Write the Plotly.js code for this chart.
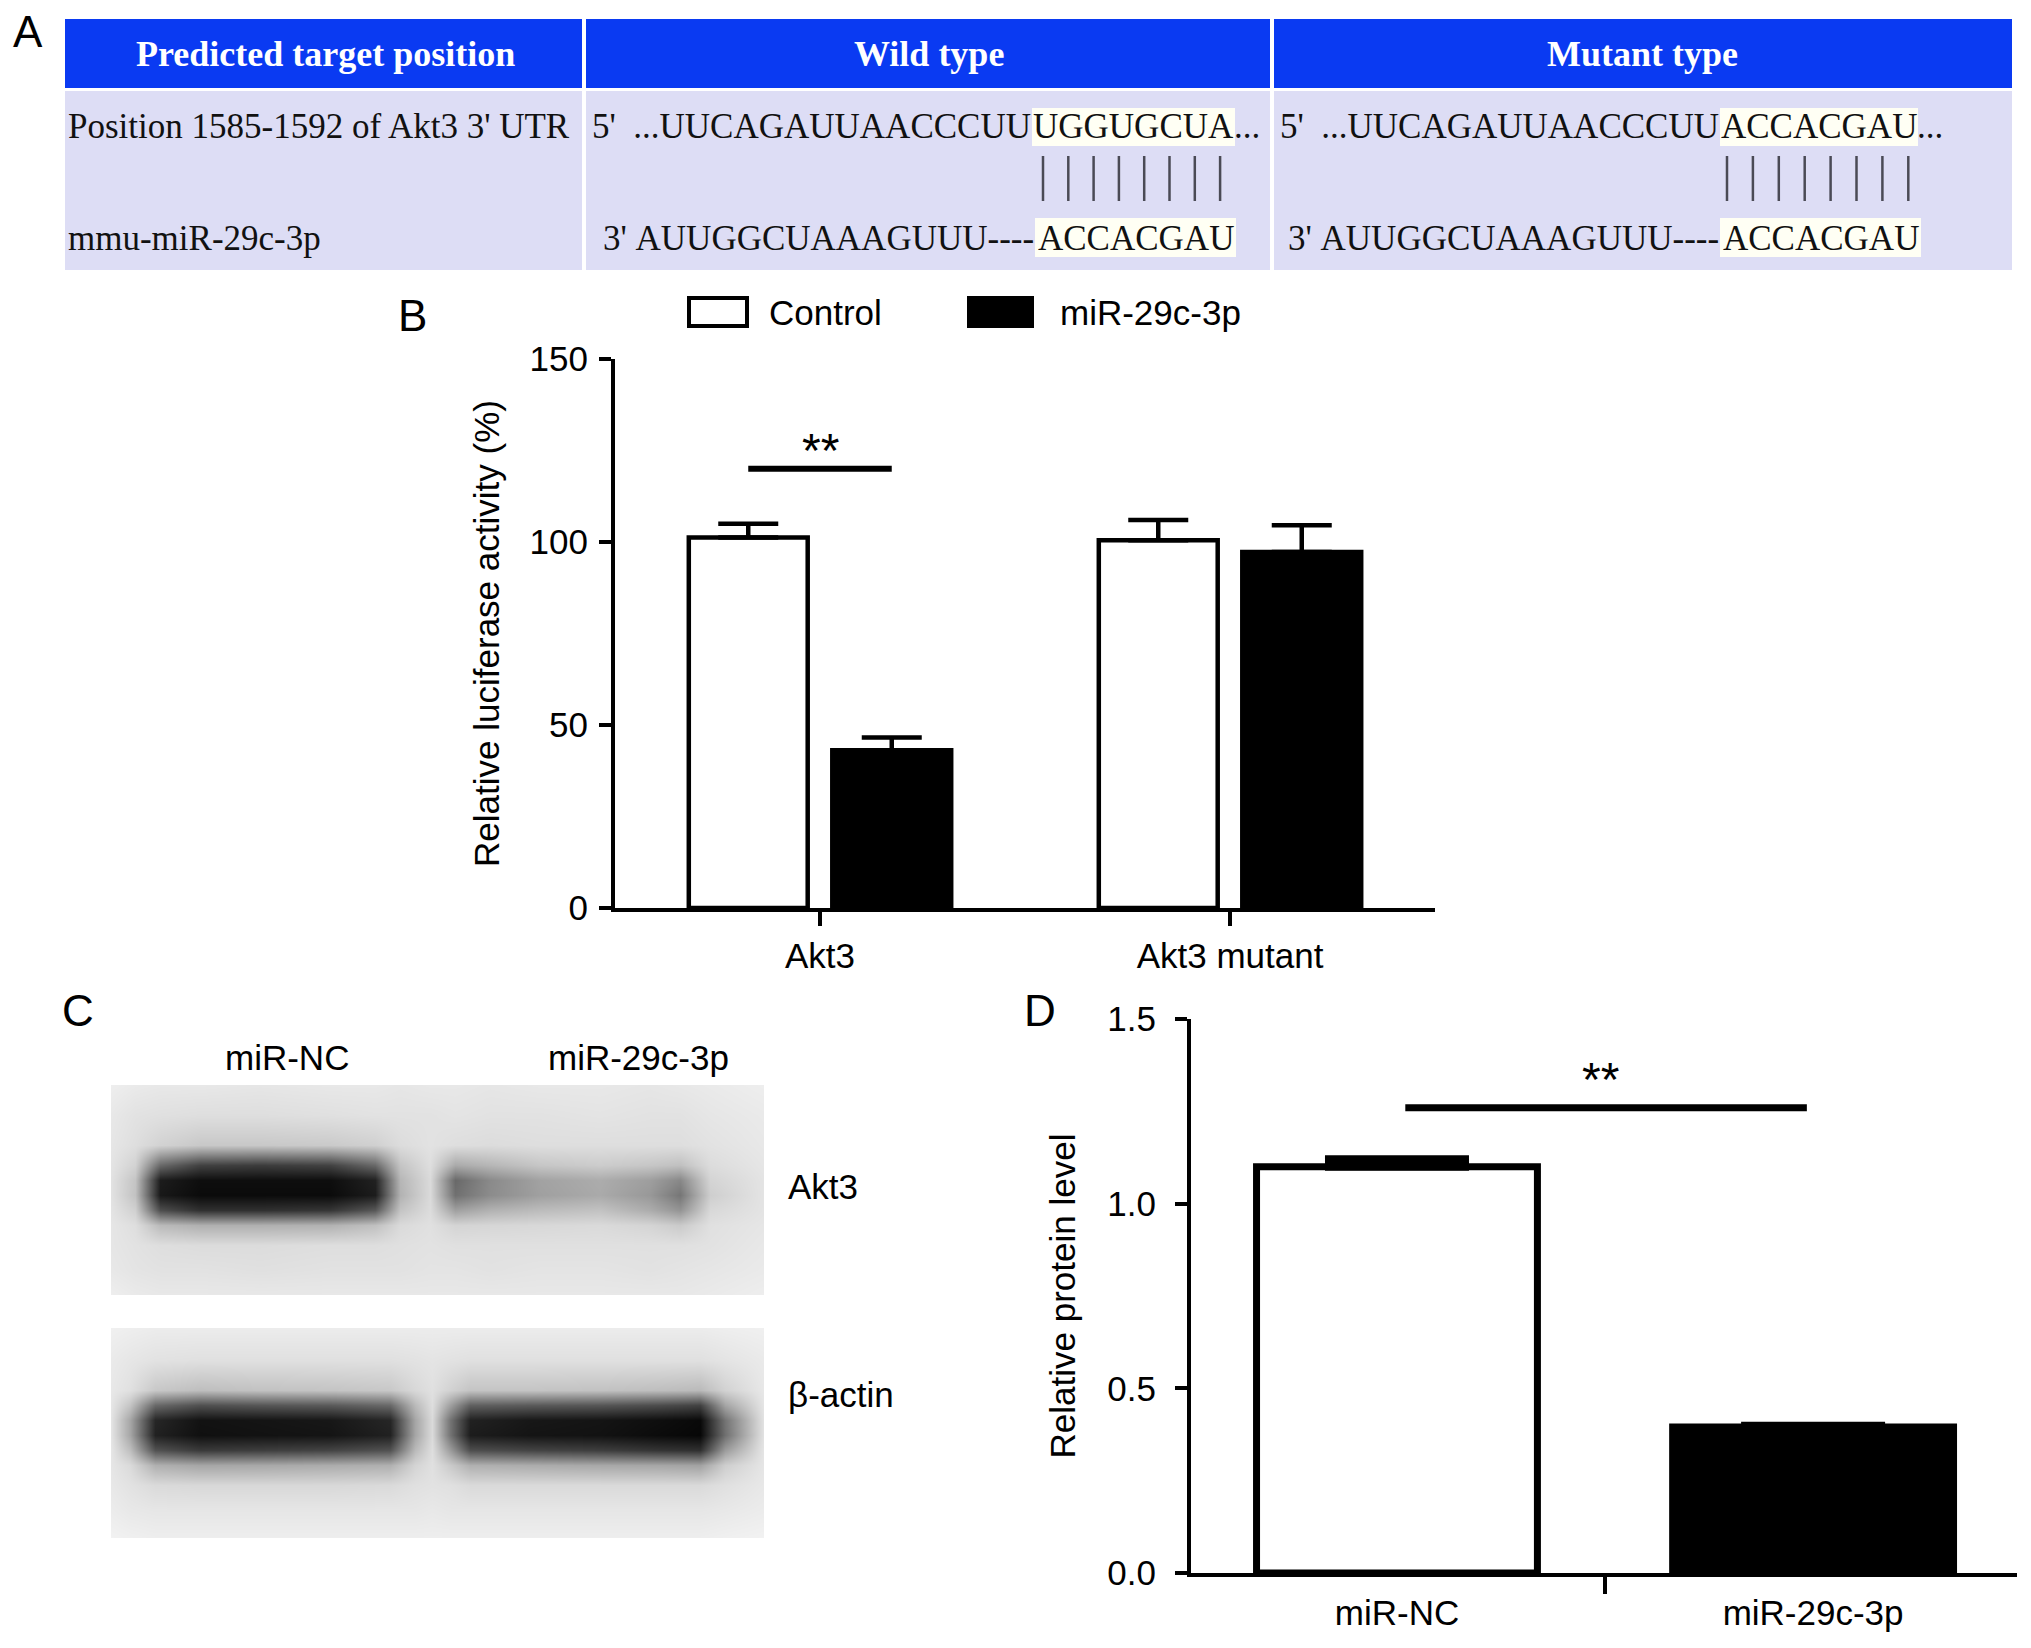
<!DOCTYPE html>
<html>
<head>
<meta charset="utf-8">
<script src="https://cdn.plot.ly/plotly-3.0.1.min.js"></script>
<style>
  html, body { margin: 0; padding: 0; background: #ffffff; }
  #chart { width: 2031px; height: 1648px; }
</style>
</head>
<body>
<div id="chart"></div>
<script>
// ---------------- DATA ----------------
// Panel A: target-site table
const tableHeader = ['Predicted target position', 'Wild type', 'Mutant type'];
const rowLabels = ["Position 1585-1592 of Akt3 3' UTR", 'mmu-miR-29c-3p'];
const wtTarget = ["5'\u00a0 ...UUCAGAUUAACCCUU", 'UGGUGCUA', '...'];
const mutTarget = ["5'\u00a0 ...UUCAGAUUAACCCUU", 'ACCACGAU', '...'];
const mirSeq = ["3'\u00a0AUUGGCUAAAGUUU----", 'ACCACGAU'];

// Panel B: luciferase reporter assay
const groupsB = ['Akt3', 'Akt3 mutant'];
const seriesB = ['Control', 'miR-29c-3p'];
const controlB = [101.2, 100.5];
const controlErrB = [3.8, 5.5];
const mirB = [43.1, 97.3];
const mirErrB = [3.5, 7.3];
const yTicksB = [0, 50, 100, 150];
const sigLevelB = 120;
const sigTextB = '**';

// Panel C: western blot (grey level 0 = black, 255 = white)
const laneLabels = ['miR-NC', 'miR-29c-3p'];
const blotLabels = ['Akt3', '\u03b2-actin'];
const akt3BlotX = [0, 3.7, 7.5, 13.6, 22.8, 33.5, 40.4, 44.3, 48.9, 52.7, 58.0, 65.7, 74.9, 82.5, 87.1, 91.7, 100];
const akt3BlotY = [0, 14.3, 28.6, 38.1, 45.2, 52.4, 59.5, 66.7, 76.2, 88.1, 100];
const akt3BlotZ = [
  [238,234,232,232,230,232,232,230,232,232,230,232,232,230,232,234,238],
  [232,226,224,222,222,224,226,226,226,228,226,226,228,226,226,230,234],
  [230,222,210,200,200,202,208,220,226,222,220,222,222,222,222,226,232],
  [228,210,105, 65, 60, 66,105,196,222,170,182,198,204,198,192,220,230],
  [226,196, 28, 14, 14, 14, 33,182,218,105,138,162,172,158,136,212,228],
  [226,194, 24, 11, 11, 11, 28,178,218,112,140,160,170,152,118,206,228],
  [228,208, 78, 48, 48, 54, 88,196,220,160,178,188,194,172,148,216,228],
  [230,222,186,176,176,178,192,218,224,212,214,216,218,212,202,224,230],
  [230,226,222,220,220,222,222,224,226,224,224,224,224,224,224,226,232],
  [232,228,226,226,224,226,226,226,228,228,226,228,228,226,228,230,234],
  [238,234,232,232,232,232,232,232,232,232,232,232,232,232,232,234,238]
];
const actinBlotX = [0, 2.9, 6.7, 13.6, 22.8, 33.5, 42.7, 46.6, 49.2, 51.9, 55.0, 64.2, 74.9, 84.1, 90.2, 94.0, 100];
const actinBlotY = [0, 15.2, 29.5, 36.7, 43.8, 51.0, 58.1, 65.2, 74.8, 86.7, 100];
const actinBlotZ = [
  [240,238,236,236,236,236,236,236,236,236,236,236,236,236,236,238,240],
  [234,230,226,224,224,224,224,226,228,226,224,224,224,224,224,228,234],
  [232,224,200,190,194,196,200,216,224,210,196,196,194,190,186,210,232],
  [230,196,105, 80, 86, 90,105,186,222,160, 96, 90, 86, 76, 66,165,230],
  [228,166, 38, 18, 20, 23, 38,166,218,116, 33, 23, 20, 14,  9,116,228],
  [228,166, 33, 16, 18, 20, 33,166,218,116, 28, 20, 18, 11,  7,112,228],
  [230,190, 82, 58, 62, 68, 82,186,222,156, 78, 68, 62, 52, 48,156,230],
  [230,218,176,166,168,172,176,212,224,202,176,172,168,166,162,206,230],
  [232,226,218,216,216,216,218,224,226,224,218,218,218,218,218,224,232],
  [236,232,230,230,230,230,230,230,232,230,230,230,230,230,230,232,236],
  [242,240,238,238,238,238,238,238,238,238,238,238,238,238,238,240,242]
];

// Panel D: relative protein level
const groupsD = ['miR-NC', 'miR-29c-3p'];
const levelD = [1.10, 0.395];
const errD = [0.02, 0.004];
const yTicksD = [0, 0.5, 1.0, 1.5];
const yTickTextD = ['0.0', '0.5', '1.0', '1.5'];
const sigLevelD = 1.26;
const sigTextD = '**';

const panelLetters = ['A', 'B', 'C', 'D'];

// ---------------- STYLE / LAYOUT ----------------
const W = 2031, H = 1648;
const px = x => x / W;
const py = y => 1 - y / H;

function fontAvailable(name) {
  const ctx = document.createElement('canvas').getContext('2d');
  const s = 'Relative luciferase activity miR-29c-3p';
  ctx.font = '40px monospace'; const a = ctx.measureText(s).width;
  ctx.font = '40px serif'; const b = ctx.measureText(s).width;
  ctx.font = '40px "' + name + '", monospace'; const c = ctx.measureText(s).width;
  ctx.font = '40px "' + name + '", serif'; const d = ctx.measureText(s).width;
  return Math.abs(c - a) > 0.5 || Math.abs(d - b) > 0.5;
}
const NARROW = fontAvailable('Liberation Sans Narrow');
const SANS = NARROW ? '"Liberation Sans Narrow", "Liberation Sans", Arial, sans-serif'
                   : '"Liberation Sans", Arial, sans-serif';
const FS = NARROW ? 42 : 35;
const STAR = NARROW ? 54 : 48;
const SERIF = '"Liberation Serif", "Times New Roman", serif';
const TFS = 35;

const barW = 0.29, offCtrl = -0.32, offMir = 0.03;

const traces = [
  {
    type: 'bar', name: seriesB[0], x: groupsB, y: controlB,
    xaxis: 'x', yaxis: 'y', width: barW, offset: offCtrl,
    marker: { color: '#ffffff', line: { color: '#000000', width: 4.5 } },
    error_y: { type: 'data', array: controlErrB, arrayminus: controlErrB.map(() => 0), symmetric: false,
               color: '#000000', thickness: 4.5, width: 30 },
    showlegend: false, hoverinfo: 'skip'
  },
  {
    type: 'bar', name: seriesB[1], x: groupsB, y: mirB,
    xaxis: 'x', yaxis: 'y', width: barW, offset: offMir,
    marker: { color: '#000000', line: { color: '#000000', width: 4.5 } },
    error_y: { type: 'data', array: mirErrB, arrayminus: mirErrB.map(() => 0), symmetric: false,
               color: '#000000', thickness: 4.5, width: 30 },
    showlegend: false, hoverinfo: 'skip'
  },
  {
    type: 'bar', x: groupsD, y: levelD, xaxis: 'x2', yaxis: 'y2', width: 0.675,
    marker: { color: ['#ffffff', '#000000'], line: { color: '#000000', width: 7 } },
    error_y: { type: 'data', array: errD, arrayminus: errD.map(() => 0), symmetric: false,
               color: '#000000', thickness: 8, width: 72 },
    showlegend: false, hoverinfo: 'skip'
  },
  {
    type: 'heatmap', x: akt3BlotX, y: akt3BlotY, z: akt3BlotZ, xaxis: 'x3', yaxis: 'y3',
    zsmooth: 'best', zmin: 0, zmax: 255, colorscale: [[0, '#000000'], [1, '#ffffff']],
    showscale: false, hoverinfo: 'skip'
  },
  {
    type: 'heatmap', x: actinBlotX, y: actinBlotY, z: actinBlotZ, xaxis: 'x3', yaxis: 'y4',
    zsmooth: 'best', zmin: 0, zmax: 255, colorscale: [[0, '#000000'], [1, '#ffffff']],
    showscale: false, hoverinfo: 'skip'
  }
];

const shapes = [];
const annotations = [];

// ---- Panel A table ----
const tblL = 65, tblR = 2012, hdrT = 19, hdrB = 88, bodyT = 91, bodyB = 270;
const HDR_BLUE = 'rgb(10,58,242)';
const BODY_LAV = 'rgb(221,221,245)';
const HILITE = 'rgb(255,255,244)';
shapes.push({ type: 'rect', xref: 'paper', yref: 'paper', layer: 'below',
  x0: px(tblL), x1: px(tblR), y0: py(hdrB), y1: py(hdrT), fillcolor: HDR_BLUE, line: { width: 0 } });
shapes.push({ type: 'rect', xref: 'paper', yref: 'paper', layer: 'below',
  x0: px(tblL), x1: px(tblR), y0: py(bodyB), y1: py(bodyT), fillcolor: BODY_LAV, line: { width: 0 } });
[584, 1272].forEach(xe => shapes.push({ type: 'line', xref: 'paper', yref: 'paper', layer: 'below',
  x0: px(xe), x1: px(xe), y0: py(bodyB), y1: py(hdrT), line: { color: '#ffffff', width: 4 } }));

// highlight boxes for seed regions
const hiBoxes = [
  [1032, 1235, 108, 146], [1035, 1236, 218, 257],
  [1720, 1918, 108, 146], [1720, 1921, 218, 257]
];
hiBoxes.forEach(b => shapes.push({ type: 'rect', xref: 'paper', yref: 'paper', layer: 'below',
  x0: px(b[0]), x1: px(b[1]), y0: py(b[3]), y1: py(b[2]), fillcolor: HILITE, line: { width: 0 } }));

// pairing bars
const pairStart = [1043, 1727], pairStep = [25.3, 25.9];
for (let k = 0; k < 2; k++) {
  const seed = k === 0 ? wtTarget[1] : mutTarget[1];
  for (let i = 0; i < seed.length; i++) {
    const xx = pairStart[k] + i * pairStep[k];
    shapes.push({ type: 'line', xref: 'paper', yref: 'paper', layer: 'below',
      x0: px(xx), x1: px(xx), y0: py(201), y1: py(156), line: { color: '#4a4a55', width: 2.5 } });
  }
}

const hdrCenters = [325, 929, 1642];
tableHeader.forEach((t, i) => annotations.push({ xref: 'paper', yref: 'paper', x: px(hdrCenters[i]), y: py(54),
  text: '<b>' + t + '</b>', showarrow: false, xanchor: 'center', yanchor: 'middle',
  font: { family: SERIF, size: 36, color: '#ffffff' } }));

const rowY = [127, 238];
const tFont = { family: SERIF, size: TFS, color: '#111111' };
rowLabels.forEach((t, i) => annotations.push({ xref: 'paper', yref: 'paper', x: px(66), y: py(rowY[i]),
  text: t, showarrow: false, xanchor: 'left', yanchor: 'middle', font: tFont }));

function seqRow(parts, seedL, seedR, yc) {
  annotations.push({ xref: 'paper', yref: 'paper', x: px(seedL), y: py(yc), text: parts[0],
    showarrow: false, xanchor: 'right', yanchor: 'middle', font: tFont });
  annotations.push({ xref: 'paper', yref: 'paper', x: px((seedL + seedR) / 2), y: py(yc), text: parts[1],
    showarrow: false, xanchor: 'center', yanchor: 'middle', font: tFont });
  if (parts[2]) annotations.push({ xref: 'paper', yref: 'paper', x: px(seedR - 2), y: py(yc), text: parts[2],
    showarrow: false, xanchor: 'left', yanchor: 'middle', font: tFont });
}
seqRow(wtTarget, 1033, 1234, rowY[0]);
seqRow(mirSeq, 1036, 1235, rowY[1]);
seqRow(mutTarget, 1721, 1917, rowY[0]);
seqRow(mirSeq, 1721, 1920, rowY[1]);

// ---- Panel labels ----
const letterPos = [[28, 32], [412, 315], [78, 1010], [1040, 1010]];
panelLetters.forEach((L, i) => annotations.push({ xref: 'paper', yref: 'paper',
  x: px(letterPos[i][0]), y: py(letterPos[i][1]), text: L, showarrow: false,
  xanchor: 'center', yanchor: 'middle', font: { family: SANS, size: NARROW ? 52 : 44, color: '#000000' } }));

// ---- Panel B legend ----
const legBoxes = [[689, 747, '#ffffff'], [969, 1032, '#000000']];
const legTextX = [767, 1058];
legBoxes.forEach((b, i) => {
  shapes.push({ type: 'rect', xref: 'paper', yref: 'paper', x0: px(b[0]), x1: px(b[1]), y0: py(326), y1: py(298),
    fillcolor: b[2], line: { color: '#000000', width: 4 } });
  annotations.push({ xref: 'paper', yref: 'paper', x: px(legTextX[i]), y: py(312), text: seriesB[i],
    showarrow: false, xanchor: 'left', yanchor: 'middle', font: { family: SANS, size: FS, color: '#000000' } });
});

// ---- Panel B significance ----
shapes.push({ type: 'line', xref: 'x', yref: 'y', x0: offCtrl + barW / 2, x1: offMir + barW / 2,
  y0: sigLevelB, y1: sigLevelB, line: { color: '#000000', width: 6 } });
annotations.push({ xref: 'x', yref: 'y', x: 0, y: sigLevelB + 5, text: sigTextB, showarrow: false,
  xanchor: 'center', yanchor: 'middle', font: { family: SANS, size: STAR, color: '#000000' } });

// ---- Panel D significance ----
shapes.push({ type: 'line', xref: 'x2', yref: 'y2', x0: 0.02, x1: 0.985,
  y0: sigLevelD, y1: sigLevelD, line: { color: '#000000', width: 7 } });
annotations.push({ xref: 'x2', yref: 'y2', x: 0.49, y: sigLevelD + 0.075, text: sigTextD, showarrow: false,
  xanchor: 'center', yanchor: 'middle', font: { family: SANS, size: STAR, color: '#000000' } });

// ---- Panel C labels ----
const laneX = [287, 638];
laneLabels.forEach((t, i) => annotations.push({ xref: 'paper', yref: 'paper', x: px(laneX[i]), y: py(1057),
  text: t, showarrow: false, xanchor: 'center', yanchor: 'middle', font: { family: SANS, size: FS, color: '#000000' } }));
const blotLabelY = [1186, 1394];
blotLabels.forEach((t, i) => annotations.push({ xref: 'paper', yref: 'paper', x: px(786), y: py(blotLabelY[i]),
  text: t, showarrow: false, xanchor: 'left', yanchor: 'middle', font: { family: SANS, size: FS, color: '#000000' } }));

const axFont = { family: SANS, size: FS, color: '#000000' };
const baseAxis = {
  showline: true, linecolor: '#000000', linewidth: 4, ticks: 'outside', tickcolor: '#000000', tickwidth: 4,
  showgrid: false, zeroline: false, fixedrange: true, tickfont: axFont, automargin: false
};
const hidden = { visible: false, showgrid: false, zeroline: false, fixedrange: true };

const layout = {
  width: W, height: H,
  margin: { l: 0, r: 0, t: 0, b: 0, pad: 0 },
  paper_bgcolor: '#ffffff', plot_bgcolor: 'rgba(0,0,0,0)',
  showlegend: false, barmode: 'overlay',
  font: { family: SANS, color: '#000000' },
  xaxis: Object.assign({}, baseAxis, { domain: [px(615), px(1435)], anchor: 'y', type: 'category',
    categoryorder: 'array', categoryarray: groupsB, range: [-0.5, 1.5], ticklen: 14, ticklabelstandoff: 0 }),
  yaxis: Object.assign({}, baseAxis, { domain: [py(908), py(359)], anchor: 'x', range: [0, 150],
    tickvals: yTicksB, ticklen: 12, ticklabelstandoff: 4,
    title: { text: 'Relative luciferase activity (%)', font: { family: SANS, size: FS, color: '#000000' }, standoff: 20 } }),
  xaxis2: Object.assign({}, baseAxis, { domain: [px(1191), px(2017)], anchor: 'y2', type: 'category',
    categoryorder: 'array', categoryarray: groupsD, range: [-0.495, 1.49], tickson: 'boundaries', ticklen: 17,
    ticklabelstandoff: 6 }),
  yaxis2: Object.assign({}, baseAxis, { domain: [py(1573), py(1019)], anchor: 'x2', range: [0, 1.5],
    tickvals: yTicksD, ticktext: yTickTextD, ticklen: 12, ticklabelstandoff: 12,
    title: { text: 'Relative protein level', font: { family: SANS, size: FS, color: '#000000' }, standoff: 22 } }),
  xaxis3: Object.assign({}, hidden, { domain: [px(111), px(764)], anchor: 'y3', range: [0, 100] }),
  yaxis3: Object.assign({}, hidden, { domain: [py(1295), py(1085)], anchor: 'x3', range: [100, 0] }),
  yaxis4: Object.assign({}, hidden, { domain: [py(1538), py(1328)], anchor: 'x3', range: [100, 0] }),
  shapes: shapes,
  annotations: annotations
};

Plotly.newPlot('chart', traces, layout, { displayModeBar: false, staticPlot: true });
</script>
</body>
</html>
